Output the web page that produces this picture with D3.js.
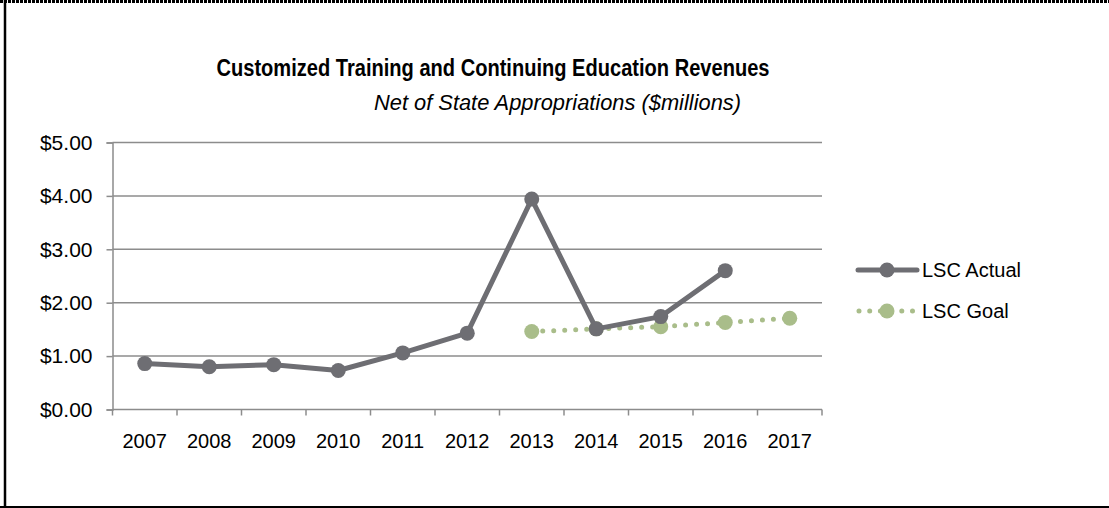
<!DOCTYPE html>
<html>
<head>
<meta charset="utf-8">
<script src="https://cdn.jsdelivr.net/npm/d3@7"></script>
<style>
  html, body { margin: 0; padding: 0; background: #fff; }
  svg { display: block; font-family: "Liberation Sans", Arial, sans-serif; }
</style>
</head>
<body>
<svg id="chart" width="1109" height="508"></svg>
<script>
// Fiscal years on the category axis
const years = ["2007","2008","2009","2010","2011","2012","2013","2014","2015","2016","2017"];
// Revenues net of state appropriations, $ millions (null = no value)
const actual = [0.86, 0.80, 0.84, 0.73, 1.06, 1.43, 3.94, 1.51, 1.74, 2.60, null];
const goal   = [null, null, null, null, null, null, 1.46, 1.51, 1.55, 1.63, 1.71];
const yTicks = [0, 1, 2, 3, 4, 5];
const seriesNames = ["LSC Actual", "LSC Goal"];

const actualColor = "#6e6e73";
const goalColor = "#a9bd8a";
const gridColor = "#8c8c8c";

const svg = d3.select("#chart");

// Outer frame: dotted top edge, solid left and bottom edges
svg.append("line").attr("x1", 0).attr("x2", 1109).attr("y1", 1.5).attr("y2", 1.5)
  .attr("stroke", "#000").attr("stroke-width", 3).attr("stroke-dasharray", "3 1");
svg.append("line").attr("x1", 5).attr("x2", 5).attr("y1", 0).attr("y2", 508)
  .attr("stroke", "#000").attr("stroke-width", 2.5);
svg.append("line").attr("x1", 0).attr("x2", 1109).attr("y1", 507).attr("y2", 507)
  .attr("stroke", "#000").attr("stroke-width", 2);

// Titles
svg.append("text").attr("x", 493).attr("y", 76).attr("text-anchor", "middle")
  .attr("font-size", 23).attr("font-weight", "bold").attr("fill", "#000")
  .attr("textLength", 553).attr("lengthAdjust", "spacingAndGlyphs")
  .text("Customized Training and Continuing Education Revenues");
svg.append("text").attr("x", 374).attr("y", 110).attr("text-anchor", "start")
  .attr("font-size", 22).attr("font-style", "italic").attr("fill", "#000")
  .attr("textLength", 367).attr("lengthAdjust", "spacingAndGlyphs")
  .text("Net of State Appropriations ($millions)");

const x = d3.scaleBand().domain(years).range([112.5, 822]);
const y = d3.scaleLinear().domain([0, 5]).range([409.5, 142.5]);

// Horizontal gridlines
svg.append("g").selectAll("line").data(yTicks.filter(d => d > 0)).join("line")
  .attr("x1", 112.5).attr("x2", 822)
  .attr("y1", d => y(d)).attr("y2", d => y(d))
  .attr("stroke", gridColor).attr("stroke-width", 1.5);

// Y axis
const yAxis = svg.append("g").attr("transform", "translate(112.5,0)")
  .call(d3.axisLeft(y).tickValues(yTicks).tickFormat(d => "$" + d.toFixed(2)).tickSize(6).tickPadding(14));
yAxis.select(".domain").attr("stroke", gridColor).attr("stroke-width", 1.5);
yAxis.selectAll(".tick line").attr("stroke", gridColor).attr("stroke-width", 1.5);
yAxis.selectAll(".tick text").attr("font-size", 21).attr("fill", "#000")
  .attr("font-family", "Liberation Sans, Arial, sans-serif");

// X axis with ticks between categories
const xAxis = svg.append("g").attr("transform", "translate(0,409.5)");
xAxis.append("line").attr("x1", 112.5).attr("x2", 822).attr("y1", 0).attr("y2", 0)
  .attr("stroke", gridColor).attr("stroke-width", 1.5);
const bounds = years.map(d => x(d)).concat([x(years[years.length - 1]) + x.bandwidth()]);
xAxis.selectAll("line.tk").data(bounds).join("line").attr("class", "tk")
  .attr("x1", d => d).attr("x2", d => d).attr("y1", 0).attr("y2", 6)
  .attr("stroke", gridColor).attr("stroke-width", 1.5);
xAxis.selectAll("text").data(years).join("text")
  .attr("x", d => x(d) + x.bandwidth() / 2).attr("y", 38)
  .attr("text-anchor", "middle").attr("font-size", 20).attr("fill", "#000")
  .text(d => d);

const cx = (d, i) => x(years[i]) + x.bandwidth() / 2;

// Goal series: dotted line with round markers
const goalLine = d3.line().defined(d => d != null).x(cx).y(d => y(d));
svg.append("path").datum(goal).attr("d", goalLine)
  .attr("fill", "none").attr("stroke", goalColor).attr("stroke-width", 5)
  .attr("stroke-linecap", "round").attr("stroke-dasharray", "0 11");
svg.append("g").selectAll("circle").data(goal.map((v, i) => ({v, i})).filter(d => d.v != null))
  .join("circle").attr("cx", d => cx(d.v, d.i)).attr("cy", d => y(d.v)).attr("r", 7.5)
  .attr("fill", goalColor);

// Actual series: solid line with round markers
const actLine = d3.line().defined(d => d != null).x(cx).y(d => y(d));
svg.append("path").datum(actual).attr("d", actLine)
  .attr("fill", "none").attr("stroke", actualColor).attr("stroke-width", 5)
  .attr("stroke-linejoin", "round");
svg.append("g").selectAll("circle").data(actual.map((v, i) => ({v, i})).filter(d => d.v != null))
  .join("circle").attr("cx", d => cx(d.v, d.i)).attr("cy", d => y(d.v)).attr("r", 7.5)
  .attr("fill", actualColor);

// Legend
const legend = svg.append("g");
const legY = [270, 311];
legend.append("line").attr("x1", 858).attr("x2", 917).attr("y1", legY[0]).attr("y2", legY[0])
  .attr("stroke", actualColor).attr("stroke-width", 5).attr("stroke-linecap", "round");
legend.append("circle").attr("cx", 887).attr("cy", legY[0]).attr("r", 7.5).attr("fill", actualColor);
legend.append("line").attr("x1", 859).attr("x2", 917).attr("y1", legY[1]).attr("y2", legY[1])
  .attr("stroke", goalColor).attr("stroke-width", 5).attr("stroke-linecap", "round")
  .attr("stroke-dasharray", "0 10.7");
legend.append("circle").attr("cx", 887).attr("cy", legY[1]).attr("r", 7.5).attr("fill", goalColor);
legend.selectAll("text").data(seriesNames).join("text")
  .attr("x", 922).attr("y", (d, i) => legY[i] + 7)
  .attr("font-size", 20).attr("fill", "#000").text(d => d);
</script>
</body>
</html>
